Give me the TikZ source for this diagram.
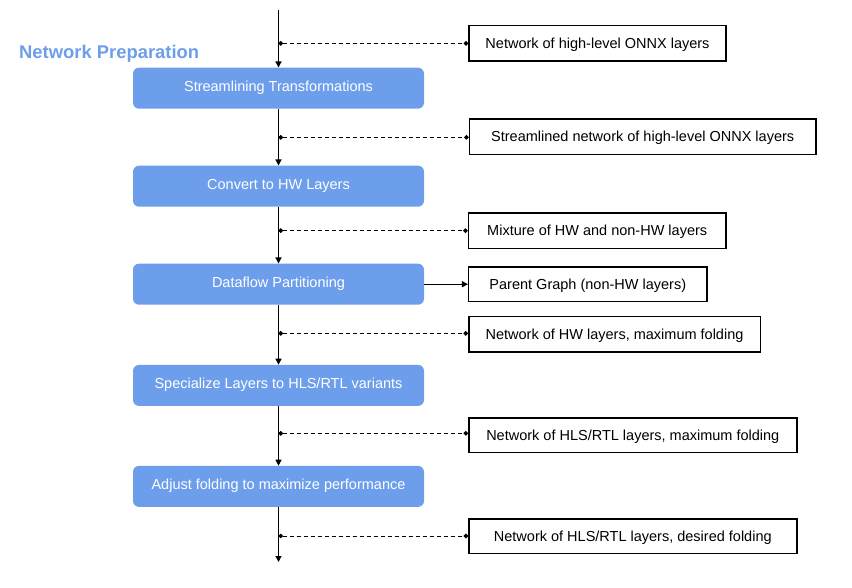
\documentclass[tikz,border=0pt]{standalone}
\usepackage{fontspec}
\setmainfont{Liberation Sans}
\usetikzlibrary{arrows.meta}
\definecolor{stepblue}{HTML}{6D9EEB}
\tikzset{
  stepbox/.style={fill=stepblue, draw=none, rounded corners=6pt, minimum width=291pt, minimum height=41pt, inner sep=0pt,
    text=white, font=\fontsize{14.5}{17}\selectfont, text height=10.4pt, text depth=4.5pt},
  databox/.style={draw=black, line width=1.5pt, fill=white, inner sep=0pt, minimum height=35.2pt,
    font=\fontsize{14.5}{17}\selectfont, text height=10.4pt, text depth=0pt},
  flow/.style={line width=1.2pt, -{Triangle[length=6pt,width=6pt]}},
  tap/.style={line width=1pt, dash pattern=on 4pt off 3pt, {Circle[length=4.5pt]}-{Circle[length=4.5pt]}},
}
\begin{document}
\begin{tikzpicture}[x=1pt,y=-1pt]
\useasboundingbox (0,0) rectangle (852,588);
% title
\node[anchor=base west, inner sep=0pt, text=stepblue, font=\fontsize{18.4}{22}\selectfont\bfseries] (title) at (19,58.5) {Network Preparation};
% process steps
\node[stepbox] (b1) at (278.5,88.2) {Streamlining Transformations};
\node[stepbox] (b2) at (278.5,186.2) {Convert to HW Layers};
\node[stepbox] (b3) at (278.5,284.2) {Dataflow Partitioning};
\node[stepbox] (b4) at (278.5,385.4) {Specialize Layers to HLS/RTL variants};
\node[stepbox] (b5) at (278.5,486.4) {Adjust folding to maximize performance};
% data boxes
\node[databox, minimum width=257pt] (r1) at (597.5,43.3) {Network of high-level ONNX layers};
\node[databox, minimum width=346.5pt] (r2) at (642.7,136.7) {Streamlined network of high-level ONNX layers};
\node[databox, minimum width=257.5pt] (r3) at (597.2,230.7) {Mixture of HW and non-HW layers};
\node[databox, minimum width=238.2pt, minimum height=34.8pt] (r4) at (587.8,284.2) {Parent Graph (non-HW layers)};
\node[databox, minimum width=291.5pt] (r5) at (614.5,334.3) {Network of HW layers, maximum folding};
\node[databox, minimum width=328pt, minimum height=34.5pt] (r6) at (632.8,435.3) {Network of HLS/RTL layers, maximum folding};
\node[databox, minimum width=328pt, minimum height=34.5pt] (r7) at (632.8,536.3) {Network of HLS/RTL layers, desired folding};
% coordinates on the main line
\coordinate (top) at (278.5,10);
\coordinate (bot) at (278.5,562);
\coordinate (t1) at (278.5,43.3);
\coordinate (t2) at (278.5,137.3);
\coordinate (t3) at (278.5,230.7);
\coordinate (t5) at (278.5,333.3);
\coordinate (t6) at (278.5,433.3);
\coordinate (t7) at (278.5,536);
% main flow
\draw[flow] (top) -- (b1.north);
\draw[flow] (b1.south) -- (b2.north);
\draw[flow] (b2.south) -- (b3.north);
\draw[flow] (b3.south) -- (b4.north);
\draw[flow] (b4.south) -- (b5.north);
\draw[flow] (b5.south) -- (bot);
% taps
\draw[tap] (t1) -- (t1 -| r1.west);
\draw[tap] (t2) -- (t2 -| r2.west);
\draw[tap] (t3) -- (t3 -| r3.west);
\draw[tap] (t5) -- (t5 -| r5.west);
\draw[tap] (t6) -- (t6 -| r6.west);
\draw[tap] (t7) -- (t7 -| r7.west);
% parent graph
\draw[flow] (b3.east) -- (r4.west);
\end{tikzpicture}
\end{document}
